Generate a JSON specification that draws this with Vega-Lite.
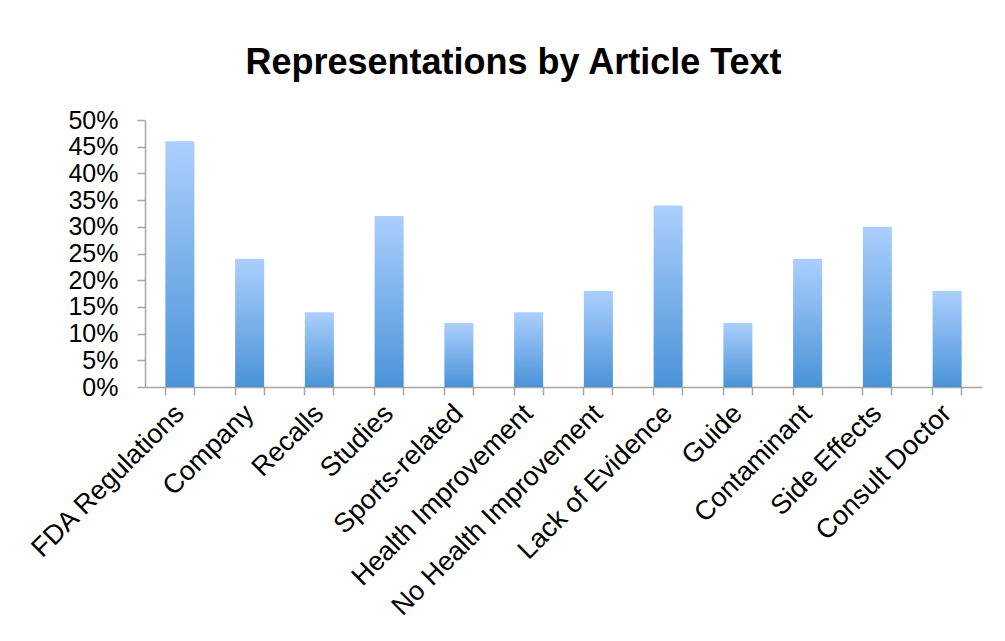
{
  "$schema": "https://vega.github.io/schema/vega-lite/v6.json",
  "autosize": {"type": "none"},
  "padding": {"left": 145, "top": 120, "right": 23, "bottom": 254},
  "width": 837,
  "height": 267,
  "background": "white",
  "title": {
    "text": "Representations by Article Text",
    "fontSize": 36,
    "font": "Liberation Sans",
    "fontWeight": "bold",
    "color": "#000000",
    "anchor": "middle",
    "baseline": "alphabetic",
    "dx": -50,
    "offset": -2
  },
  "data": {
    "values": [
      {"category": "FDA Regulations", "share": 0.46},
      {"category": "Company", "share": 0.24},
      {"category": "Recalls", "share": 0.14},
      {"category": "Studies", "share": 0.32},
      {"category": "Sports-related", "share": 0.12},
      {"category": "Health Improvement", "share": 0.14},
      {"category": "No Health Improvement", "share": 0.18},
      {"category": "Lack of Evidence", "share": 0.34},
      {"category": "Guide", "share": 0.12},
      {"category": "Contaminant", "share": 0.24},
      {"category": "Side Effects", "share": 0.30},
      {"category": "Consult Doctor", "share": 0.18}
    ]
  },
  "layer": [
    {
      "mark": {
        "type": "bar",
        "color": {
          "gradient": "linear",
          "x1": 0, "y1": 0, "x2": 0, "y2": 1,
          "stops": [
            {"offset": 0, "color": "#abcffd"},
            {"offset": 1, "color": "#4a93d8"}
          ]
        }
      },
      "encoding": {
        "x": {
          "field": "category",
          "type": "nominal",
          "sort": null,
          "scale": {"paddingInner": 0.584, "paddingOuter": 0.292},
          "axis": {
            "orient": "bottom",
            "title": null,
            "ticks": false,
            "labelAngle": -45,
            "labelAlign": "right",
            "labelBaseline": "middle",
            "labelPadding": 22,
            "labelDx": -2,
            "labelLimit": 0,
            "labelOverlap": false,
            "labelFontSize": 27,
            "labelFont": "Liberation Sans",
            "labelColor": "#000000",
            "domainColor": "#a6a6a6",
            "domainWidth": 1.5
          }
        },
        "y": {
          "field": "share",
          "type": "quantitative",
          "scale": {"domain": [0, 0.5], "nice": false},
          "axis": {
            "title": null,
            "values": [0, 0.05, 0.1, 0.15, 0.2, 0.25, 0.3, 0.35, 0.4, 0.45, 0.5],
            "format": ".0%",
            "grid": false,
            "labelOverlap": false,
            "tickSize": 8,
            "tickColor": "#a6a6a6",
            "tickWidth": 1.5,
            "domainColor": "#a6a6a6",
            "domainWidth": 1.5,
            "labelPadding": 19,
            "labelFontSize": 25,
            "labelFont": "Liberation Sans",
            "labelColor": "#000000"
          }
        }
      }
    },
    {
      "mark": {"type": "bar", "opacity": 0},
      "encoding": {
        "x": {
          "field": "category",
          "type": "nominal",
          "sort": null,
          "axis": {
            "orient": "bottom",
            "title": null,
            "labels": false,
            "domain": false,
            "ticks": true,
            "bandPosition": 0,
            "tickSize": 8,
            "tickColor": "#a6a6a6",
            "tickWidth": 1.5
          }
        }
      }
    },
    {
      "mark": {"type": "bar", "opacity": 0},
      "encoding": {
        "x": {
          "field": "category",
          "type": "nominal",
          "sort": null,
          "axis": {
            "orient": "bottom",
            "title": null,
            "labels": false,
            "domain": false,
            "ticks": true,
            "bandPosition": 1,
            "tickSize": 8,
            "tickColor": "#a6a6a6",
            "tickWidth": 1.5
          }
        }
      }
    }
  ],
  "resolve": {"axis": {"x": "independent"}},
  "config": {"view": {"stroke": null}}
}
